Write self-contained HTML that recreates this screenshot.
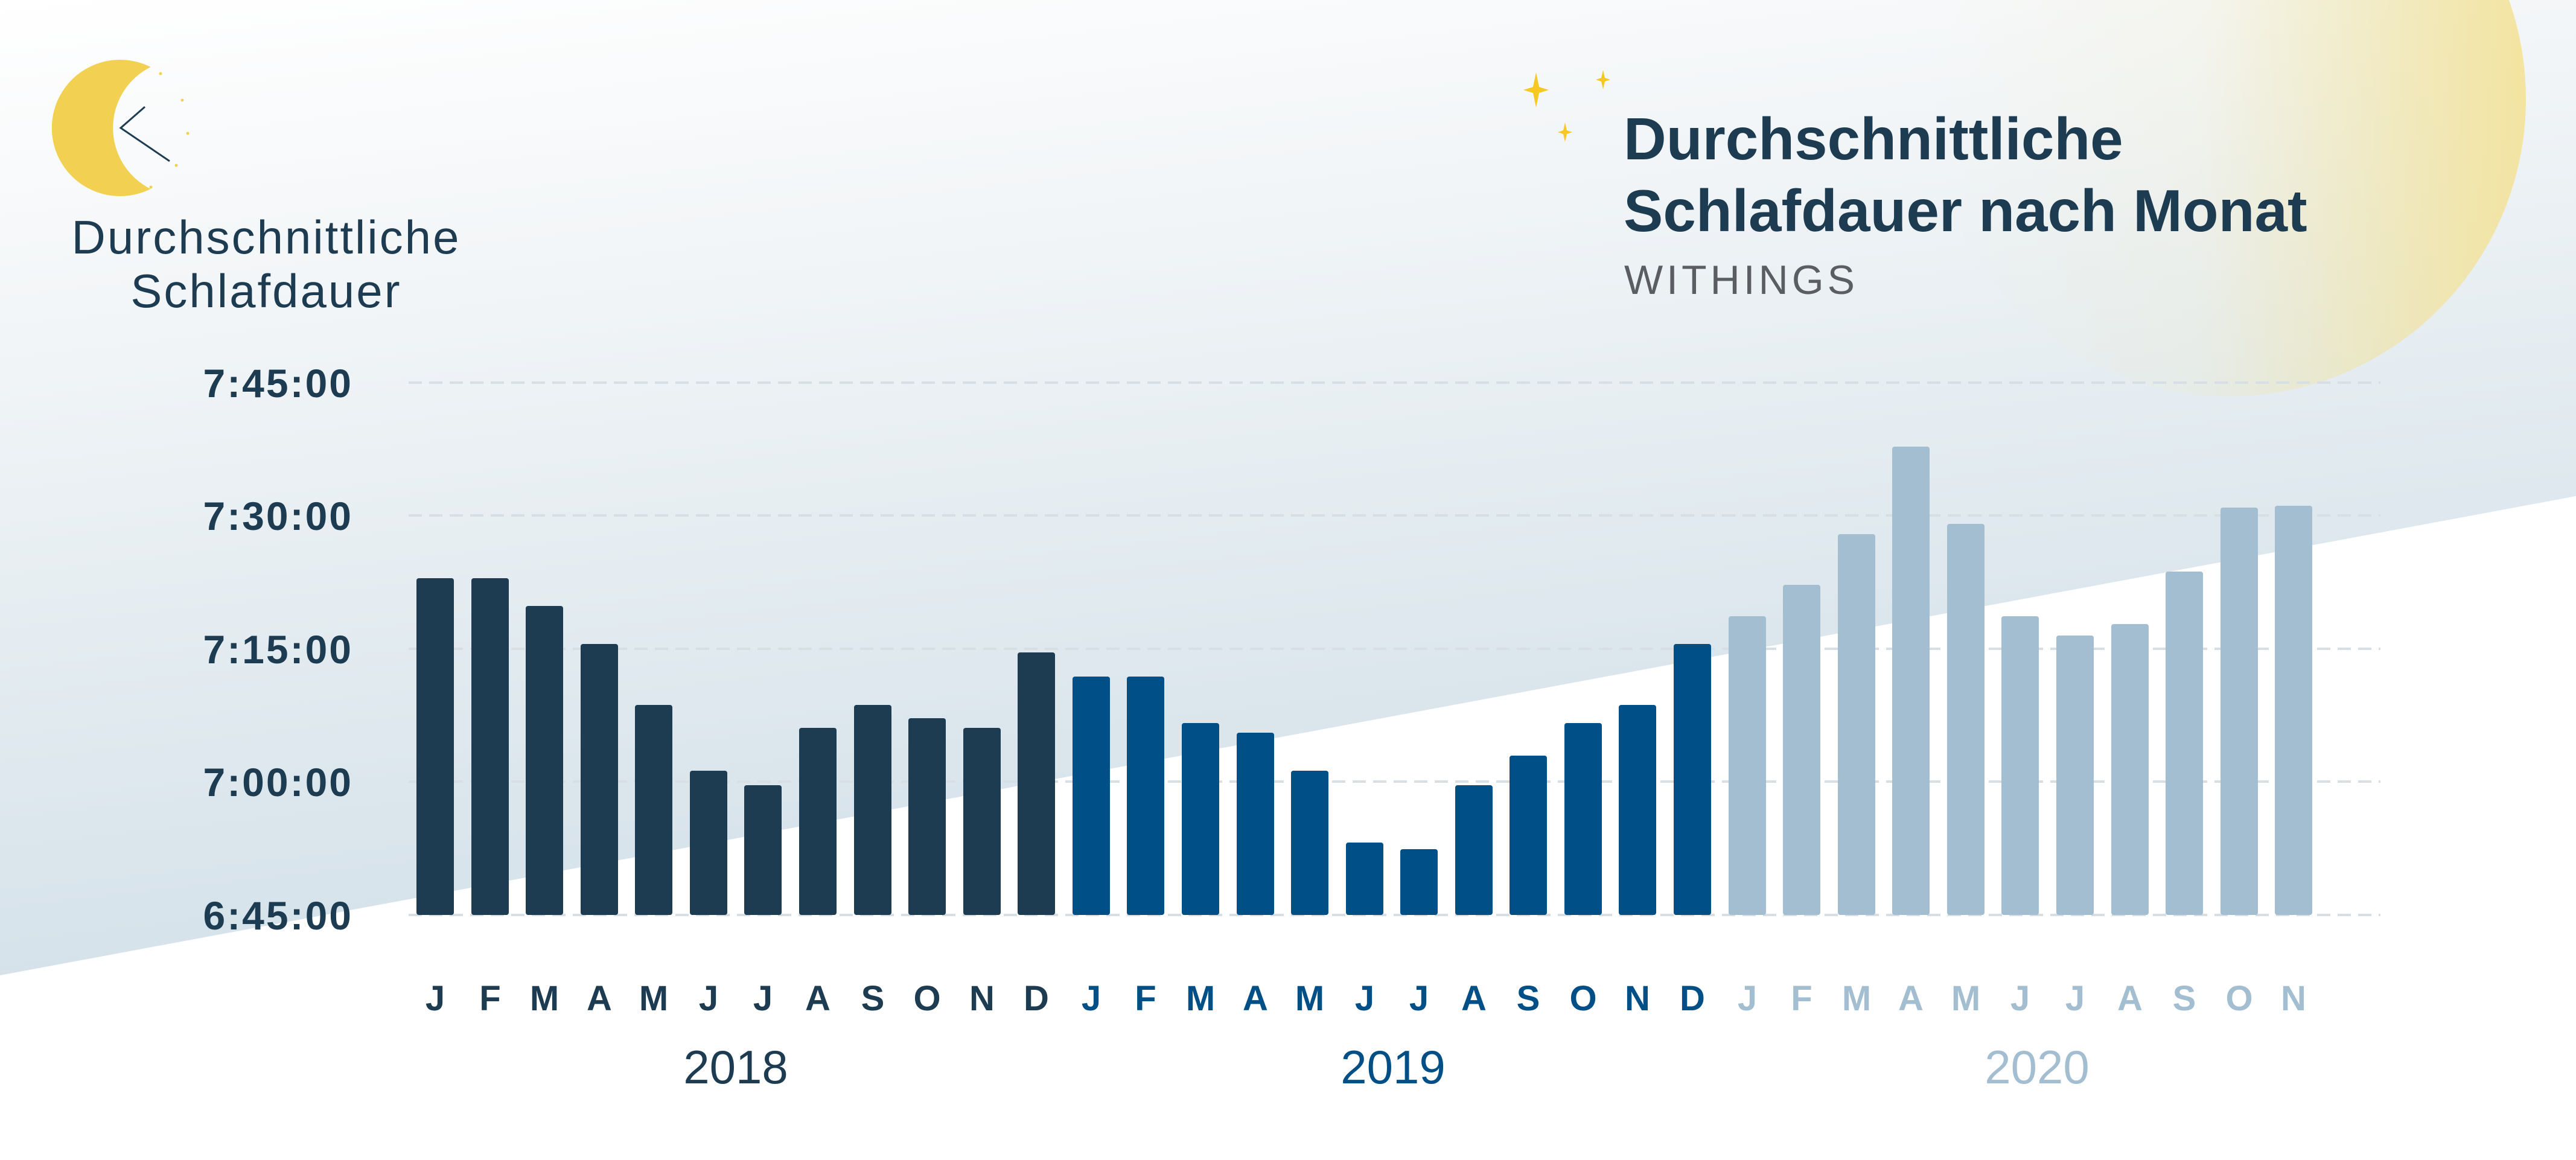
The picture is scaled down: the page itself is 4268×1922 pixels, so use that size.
<!DOCTYPE html>
<html><head><meta charset="utf-8"><style>
html,body{margin:0;padding:0;}
body{width:4268px;height:1917px;overflow:hidden;background:#fff;}
svg text{font-family:"Liberation Sans",sans-serif;}
</style></head><body>
<svg width="4268" height="1917" viewBox="0 0 4268 1917" xmlns="http://www.w3.org/2000/svg">
<defs>
<linearGradient id="bg" x1="0" y1="0" x2="0.25" y2="1">
<stop offset="0" stop-color="#ffffff"/>
<stop offset="0.25" stop-color="#f3f6f8"/>
<stop offset="0.75" stop-color="#d8e4eb"/>
<stop offset="1" stop-color="#cbdbe4"/>
</linearGradient>
<linearGradient id="sun" x1="0" y1="0" x2="1" y2="0">
<stop offset="0" stop-color="#f2e6a6" stop-opacity="0"/>
<stop offset="0.45" stop-color="#efe2a2" stop-opacity="0.12"/>
<stop offset="1" stop-color="#f3e39c" stop-opacity="0.95"/>
</linearGradient>
</defs>
<rect width="4268" height="1917" fill="url(#bg)"/>
<circle cx="3692" cy="164" r="493" fill="url(#sun)"/>
<polygon points="0,1616 4268,822 4268,1917 0,1917" fill="#ffffff"/>

<!-- moon -->
<path d="M249.5,111 A113,113 0 1,0 249.5,313 A113,113 0 0,1 249.5,111 Z" fill="#f2d052"/>
<polyline points="240,177 200,212 281,267" fill="none" stroke="#1d3c52" stroke-width="3"/>
<g fill="#f2d052"><circle cx="266" cy="122" r="2.5"/><circle cx="302" cy="166" r="2.5"/><circle cx="311" cy="221" r="2.5"/><circle cx="292" cy="274" r="2.5"/><circle cx="250" cy="310" r="2.5"/></g>
<text x="441" y="420" font-size="78" letter-spacing="3" fill="#1d3c52" text-anchor="middle">Durchschnittliche</text>
<text x="441" y="509" font-size="78" letter-spacing="3" fill="#1d3c52" text-anchor="middle">Schlafdauer</text>

<!-- stars -->
<g fill="#f5c824">
<path d="M2545,120 L2550,144 L2566,149 L2550,154 L2545,178 L2540,154 L2524,149 L2540,144Z"/>
<path d="M2656,116 L2659,129 L2668,132 L2659,135 L2656,148 L2653,135 L2644,132 L2653,129Z"/>
<path d="M2593,203 L2596,216 L2605,219 L2596,222 L2593,235 L2590,222 L2581,219 L2590,216Z"/>
</g>
<text x="2690" y="264" font-size="98" font-weight="bold" fill="#1d3c52">Durchschnittliche</text>
<text x="2690" y="383" font-size="98" font-weight="bold" fill="#1d3c52">Schlafdauer nach Monat</text>
<text x="2691" y="487" font-size="68" fill="#5a5e63" letter-spacing="6">WITHINGS</text>

<!-- grid -->
<g stroke="#d7dee4" stroke-width="4" stroke-dasharray="22 12">
<line x1="677" y1="634" x2="3944" y2="634"/>
<line x1="677" y1="854" x2="3944" y2="854"/>
<line x1="677" y1="1075" x2="3944" y2="1075"/>
<line x1="677" y1="1295" x2="3944" y2="1295"/>
<line x1="677" y1="1516" x2="3944" y2="1516"/>
</g>
<g font-size="66" font-weight="bold" fill="#1d3c52" text-anchor="end" letter-spacing="3">
<text x="585" y="658">7:45:00</text>
<text x="585" y="878">7:30:00</text>
<text x="585" y="1099">7:15:00</text>
<text x="585" y="1319">7:00:00</text>
<text x="585" y="1540">6:45:00</text>
</g>

<!-- bars -->
<g fill="#1d3c52">
<rect x="690" y="958" width="62" height="558" rx="4"/>
<rect x="781" y="958" width="62" height="558" rx="4"/>
<rect x="871" y="1004" width="62" height="512" rx="4"/>
<rect x="962" y="1067" width="62" height="449" rx="4"/>
<rect x="1052" y="1168" width="62" height="348" rx="4"/>
<rect x="1143" y="1277" width="62" height="239" rx="4"/>
<rect x="1233" y="1301" width="62" height="215" rx="4"/>
<rect x="1324" y="1206" width="62" height="310" rx="4"/>
<rect x="1415" y="1168" width="62" height="348" rx="4"/>
<rect x="1505" y="1190" width="62" height="326" rx="4"/>
<rect x="1596" y="1206" width="62" height="310" rx="4"/>
<rect x="1686" y="1081" width="62" height="435" rx="4"/>
</g>
<g fill="#004f86">
<rect x="1777" y="1121" width="62" height="395" rx="4"/>
<rect x="1867" y="1121" width="62" height="395" rx="4"/>
<rect x="1958" y="1198" width="62" height="318" rx="4"/>
<rect x="2049" y="1214" width="62" height="302" rx="4"/>
<rect x="2139" y="1277" width="62" height="239" rx="4"/>
<rect x="2230" y="1396" width="62" height="120" rx="4"/>
<rect x="2320" y="1407" width="62" height="109" rx="4"/>
<rect x="2411" y="1301" width="62" height="215" rx="4"/>
<rect x="2501" y="1252" width="62" height="264" rx="4"/>
<rect x="2592" y="1198" width="62" height="318" rx="4"/>
<rect x="2682" y="1168" width="62" height="348" rx="4"/>
<rect x="2773" y="1067" width="62" height="449" rx="4"/>
</g>
<g fill="#a2bed0">
<rect x="2864" y="1021" width="62" height="495" rx="4"/>
<rect x="2954" y="969" width="62" height="547" rx="4"/>
<rect x="3045" y="885" width="62" height="631" rx="4"/>
<rect x="3135" y="740" width="62" height="776" rx="4"/>
<rect x="3226" y="868" width="62" height="648" rx="4"/>
<rect x="3316" y="1021" width="62" height="495" rx="4"/>
<rect x="3407" y="1053" width="62" height="463" rx="4"/>
<rect x="3498" y="1034" width="62" height="482" rx="4"/>
<rect x="3588" y="947" width="62" height="569" rx="4"/>
<rect x="3679" y="841" width="62" height="675" rx="4"/>
<rect x="3769" y="838" width="62" height="678" rx="4"/>
</g>

<!-- month labels -->
<g font-size="58" font-weight="bold" text-anchor="middle">
<g fill="#1d3c52">
<text x="721" y="1674">J</text><text x="812" y="1674">F</text><text x="902" y="1674">M</text><text x="993" y="1674">A</text><text x="1083" y="1674">M</text><text x="1174" y="1674">J</text><text x="1264" y="1674">J</text><text x="1355" y="1674">A</text><text x="1446" y="1674">S</text><text x="1536" y="1674">O</text><text x="1627" y="1674">N</text><text x="1717" y="1674">D</text>
</g>
<g fill="#004f86">
<text x="1808" y="1674">J</text><text x="1898" y="1674">F</text><text x="1989" y="1674">M</text><text x="2080" y="1674">A</text><text x="2170" y="1674">M</text><text x="2261" y="1674">J</text><text x="2351" y="1674">J</text><text x="2442" y="1674">A</text><text x="2532" y="1674">S</text><text x="2623" y="1674">O</text><text x="2713" y="1674">N</text><text x="2804" y="1674">D</text>
</g>
<g fill="#a2bed0">
<text x="2895" y="1674">J</text><text x="2985" y="1674">F</text><text x="3076" y="1674">M</text><text x="3166" y="1674">A</text><text x="3257" y="1674">M</text><text x="3347" y="1674">J</text><text x="3438" y="1674">J</text><text x="3529" y="1674">A</text><text x="3619" y="1674">S</text><text x="3710" y="1674">O</text><text x="3800" y="1674">N</text>
</g>
</g>
<g font-size="78" text-anchor="middle">
<text x="1219" y="1795" fill="#1d3c52">2018</text>
<text x="2308" y="1795" fill="#004f86">2019</text>
<text x="3375" y="1795" fill="#a2bed0">2020</text>
</g>
</svg>
</body></html>
